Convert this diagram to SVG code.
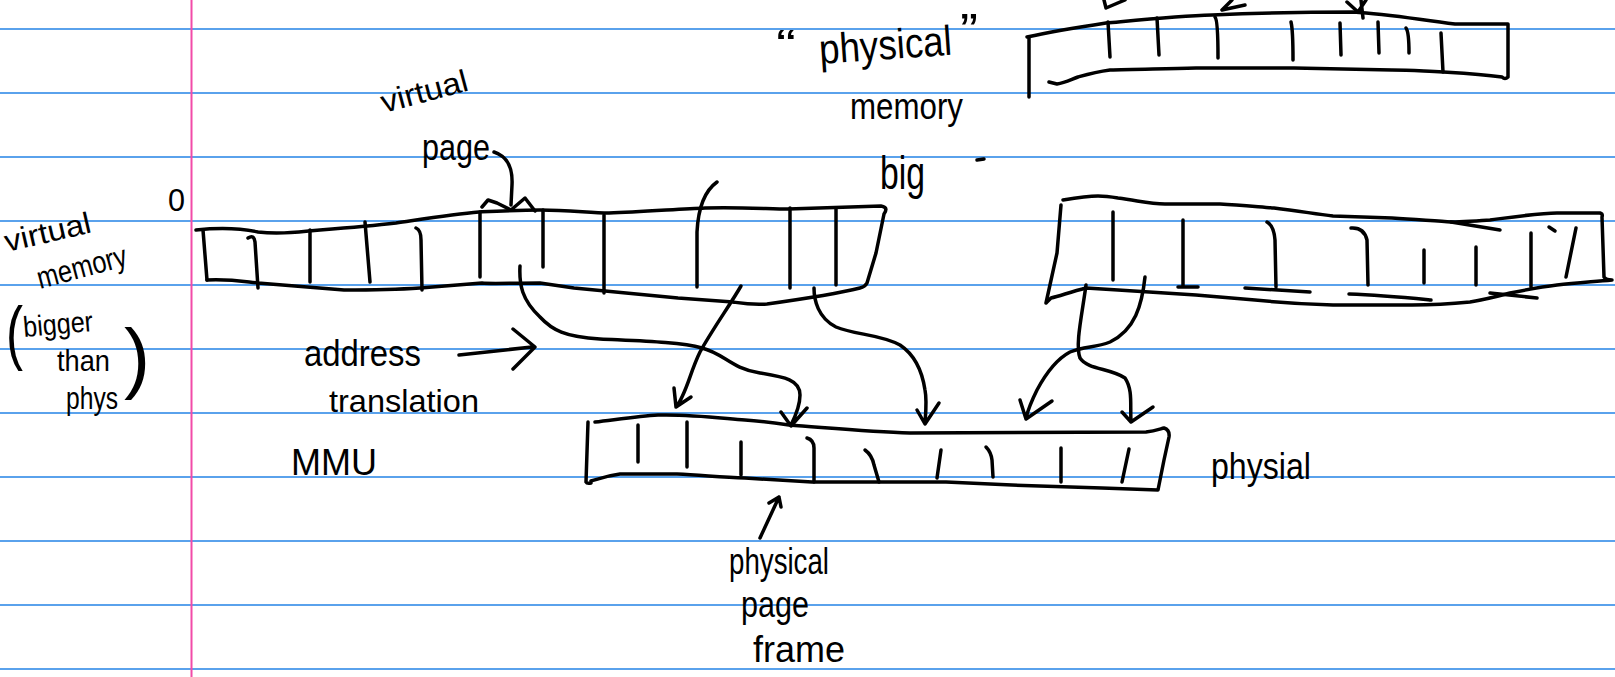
<svg xmlns="http://www.w3.org/2000/svg" width="1615" height="677" viewBox="0 0 1615 677">
<style>
.rule{stroke:#5aa2ec;stroke-width:2}
.margin{stroke:#f24ba8;stroke-width:2}
.ink{fill:none;stroke:#000;stroke-width:3.5;stroke-linecap:round;stroke-linejoin:round}
.t{font-family:"Liberation Sans",Arial,sans-serif;fill:#000}
</style>
<rect width="1615" height="677" fill="#fff"/>
<g id="paper">
<line class="rule" x1="0" y1="29" x2="1615" y2="29"/>
<line class="rule" x1="0" y1="93" x2="1615" y2="93"/>
<line class="rule" x1="0" y1="157" x2="1615" y2="157"/>
<line class="rule" x1="0" y1="221" x2="1615" y2="221"/>
<line class="rule" x1="0" y1="285" x2="1615" y2="285"/>
<line class="rule" x1="0" y1="349" x2="1615" y2="349"/>
<line class="rule" x1="0" y1="413" x2="1615" y2="413"/>
<line class="rule" x1="0" y1="477" x2="1615" y2="477"/>
<line class="rule" x1="0" y1="541" x2="1615" y2="541"/>
<line class="rule" x1="0" y1="605" x2="1615" y2="605"/>
<line class="rule" x1="0" y1="669" x2="1615" y2="669"/>
<line class="margin" x1="191.5" y1="0" x2="191.5" y2="677"/>
</g>

<g id="labels-left">
<text class="t" x="168" y="211" font-size="32" textLength="17" lengthAdjust="spacingAndGlyphs">0</text>
<text class="t" x="7" y="252" font-size="30" textLength="88" lengthAdjust="spacingAndGlyphs" transform="rotate(-13 7 252)">virtual</text>
<text class="t" x="40" y="289" font-size="31" textLength="92" lengthAdjust="spacingAndGlyphs" transform="rotate(-15 40 289)">memory</text>
<text class="t" x="6" y="356" font-size="70" textLength="17" lengthAdjust="spacingAndGlyphs">(</text>
<text class="t" x="24" y="337" font-size="29" textLength="70" lengthAdjust="spacingAndGlyphs" transform="rotate(-5 24 337)">bigger</text>
<text class="t" x="57" y="371" font-size="29" textLength="53" lengthAdjust="spacingAndGlyphs">than</text>
<text class="t" x="66" y="409" font-size="31" textLength="52" lengthAdjust="spacingAndGlyphs">phys</text>
<text class="t" x="124" y="384" font-size="78" textLength="26" lengthAdjust="spacingAndGlyphs">)</text>
</g>

<g id="label-virtual-page">
<text class="t" x="384" y="113" font-size="31" textLength="89" lengthAdjust="spacingAndGlyphs" transform="rotate(-15 384 113)">virtual</text>
<text class="t" x="422" y="160" font-size="36" textLength="68" lengthAdjust="spacingAndGlyphs">page</text>
</g>

<g id="label-address-translation">
<text class="t" x="304" y="366" font-size="36" textLength="117" lengthAdjust="spacingAndGlyphs">address</text>
<text class="t" x="329" y="412" font-size="32" textLength="150" lengthAdjust="spacingAndGlyphs">translation</text>
</g>

<g id="label-mmu">
<text class="t" x="291" y="475" font-size="37" textLength="86" lengthAdjust="spacingAndGlyphs">MMU</text>
</g>

<g id="label-physical-memory">
<text class="t" x="776" y="58" font-size="40" textLength="20" lengthAdjust="spacingAndGlyphs">“</text>
<text class="t" x="820" y="64" font-size="42" textLength="133" lengthAdjust="spacingAndGlyphs" transform="rotate(-4 820 64)">physical</text>
<text class="t" x="960" y="46" font-size="46" textLength="18" lengthAdjust="spacingAndGlyphs">”</text>
<text class="t" x="850" y="119" font-size="37" textLength="113" lengthAdjust="spacingAndGlyphs">memory</text>
<text class="t" x="880" y="189" font-size="46" textLength="45" lengthAdjust="spacingAndGlyphs">big</text>
<path class="ink" d="M977,160 L984,159"/>
</g>

<g id="label-physial">
<text class="t" x="1211" y="479" font-size="37" textLength="100" lengthAdjust="spacingAndGlyphs">physial</text>
</g>

<g id="label-physical-page-frame">
<text class="t" x="729" y="574" font-size="36" textLength="100" lengthAdjust="spacingAndGlyphs">physical</text>
<text class="t" x="741" y="617" font-size="37" textLength="68" lengthAdjust="spacingAndGlyphs">page</text>
<text class="t" x="753" y="662" font-size="37" textLength="92" lengthAdjust="spacingAndGlyphs">frame</text>
</g>

<g id="virtual-memory-bar">
<path class="ink" d="M196,230 C215,228 235,227 258,232 C275,234 290,233 320,230 C345,228 370,226 396,223 C430,218 455,214 479,212 C500,211 520,210 540,210 C570,210 590,213 609,213 C640,212 680,209 705,208 C740,207 770,209 788,209 C820,208 850,207 881,206 C888,207 886,211 884,214 L876,253 L867,283 Q865,287 860,288 C840,293 810,298 767,304 C750,305 740,303 733,302 L678,298 L626,293 L574,288 L540,283 C510,283 490,284 482,283 L420,288 C390,290 370,290 344,290 L258,283 C240,281 230,279 207,280"/>
<path class="ink" d="M203,230 L207,280"/>
<path class="ink" d="M248,238 Q254,234 255,242 L258,288"/>
<path class="ink" d="M310,230 L310,282"/>
<path class="ink" d="M365,222 L370,282"/>
<path class="ink" d="M416,228 Q421,230 421,240 L422,290"/>
<path class="ink" d="M480,212 L480,277"/>
<path class="ink" d="M543,210 L543,267"/>
<path class="ink" d="M604,215 L604,293"/>
<path class="ink" d="M697,287 L697,232 C698,212 703,192 717,182"/>
<path class="ink" d="M790,208 L790,288"/>
<path class="ink" d="M836,208 L836,285"/>
</g>

<g id="physical-memory-top-bar">
<path class="ink" d="M1029,37 L1029,97"/>
<path class="ink" d="M1027,37 C1050,32 1080,27 1106,23 C1150,19 1180,16 1212,15 C1260,13 1310,12 1353,12 C1390,14 1420,20 1455,24 L1508,24 L1508,77 Q1505,80 1502,77 C1480,74 1460,73 1443,72 C1420,71 1410,70 1392,70 L1294,68 L1196,68 C1160,69 1130,69 1110,70 C1095,72 1085,75 1078,77 C1070,80 1065,83 1057,84 L1049,82"/>
<path class="ink" d="M1108,22 L1110,57"/>
<path class="ink" d="M1157,18 L1159,55"/>
<path class="ink" d="M1215,17 Q1218,20 1218,58"/>
<path class="ink" d="M1291,22 Q1293,30 1293,60"/>
<path class="ink" d="M1340,23 L1341,55"/>
<path class="ink" d="M1378,22 L1379,53"/>
<path class="ink" d="M1406,28 Q1409,32 1409,53"/>
<path class="ink" d="M1441,33 L1443,72"/>
<path class="ink" d="M1104,0 L1106,8 L1125,0"/>
<path class="ink" d="M1232,0 L1222,10 L1245,5"/>
<path class="ink" d="M1361,0 L1363,18 M1347,2 L1358,12 L1366,0"/>
</g>

<g id="virtual-memory-right-bar">
<path class="ink" d="M1063,200 C1075,198 1090,196 1098,196 C1105,196 1112,197 1118,198 C1140,201 1150,204 1165,204 L1220,204 C1240,205 1260,207 1274,208 C1300,211 1315,214 1333,216 L1392,218 C1420,220 1440,221 1451,222 C1470,221 1480,221 1490,220 C1520,216 1540,213 1557,213 L1600,213 Q1603,214 1602,217 L1604,277 Q1606,280 1612,280 C1590,282 1575,283 1557,285 C1540,287 1525,290 1510,293 C1495,297 1482,300 1470,302 C1450,304 1430,305 1412,305 L1333,305 C1300,304 1275,302 1255,300 L1196,295 L1118,290 L1086,288 C1070,292 1060,296 1051,298 L1047,302"/>
<path class="ink" d="M1061,205 L1057,253 L1046,303"/>
<path class="ink" d="M1451,222 L1500,230"/>
<path class="ink" d="M1349,294 C1380,295 1400,297 1431,300"/>
<path class="ink" d="M1490,293 L1537,298"/>
<path class="ink" d="M1113,212 L1113,280"/>
<path class="ink" d="M1183,220 L1183,287 M1178,287 L1198,287"/>
<path class="ink" d="M1267,222 Q1274,226 1275,240 L1276,287 M1245,288 L1310,292"/>
<path class="ink" d="M1351,228 Q1364,227 1367,240 L1368,285"/>
<path class="ink" d="M1424,250 L1424,283"/>
<path class="ink" d="M1476,247 L1476,285"/>
<path class="ink" d="M1531,233 L1531,287"/>
<path class="ink" d="M1549,227 L1555,231"/>
<path class="ink" d="M1576,228 L1566,277"/>
</g>

<g id="mmu-physical-bar">
<path class="ink" d="M588,422 L586,482 Q587,484 591,483"/>
<path class="ink" d="M595,422 C620,419 640,416 658,415 C690,414 720,418 745,420 C760,421 775,423 789,425 C830,428 870,432 910,433 L1146,432 C1155,431 1160,429 1164,428 Q1170,430 1169,437 L1164,460 L1158,490 L1102,488 L1012,485 L946,482 L879,482 L812,482 L745,478 C720,477 700,475 677,474 C650,474 635,474 620,474 C605,476 598,479 591,481"/>
<path class="ink" d="M638,425 L638,462"/>
<path class="ink" d="M687,422 L687,467"/>
<path class="ink" d="M741,442 L741,475"/>
<path class="ink" d="M807,438 Q814,440 814,448 L814,482"/>
<path class="ink" d="M865,450 Q872,455 874,465 L879,482"/>
<path class="ink" d="M941,450 L937,478"/>
<path class="ink" d="M986,447 Q991,452 992,460 L993,477"/>
<path class="ink" d="M1061,448 L1061,482"/>
<path class="ink" d="M1129,449 L1122,482"/>
</g>

<g id="connectors">
<path class="ink" d="M494,152 C506,156 513,165 512,185 L511,205 M482,207 L488,200 L497,203 L511,210 L525,198 L535,211"/>
<path class="ink" d="M459,355 L532,347 M513,329 L535,347 L513,369"/>
<path class="ink" d="M520,266 C519,285 522,300 540,317 C552,330 565,337 600,339 C640,341 680,342 702,348 C725,354 730,368 760,373 C785,377 800,380 800,395 C800,405 796,415 791,425 M781,412 L791,426 L807,408"/>
<path class="ink" d="M741,286 C730,305 712,330 700,352 C690,372 686,395 676,407 M674,388 L676,407 L691,397"/>
<path class="ink" d="M814,288 C814,300 818,318 836,327 C855,335 880,334 900,345 C915,355 922,370 925,390 C927,400 926,410 925,423 M917,410 L925,424 L939,403"/>
<path class="ink" d="M1145,277 C1142,305 1135,330 1110,342 C1095,348 1085,346 1070,352 C1055,360 1045,375 1037,390 C1032,400 1028,410 1026,418 M1020,400 L1026,419 L1052,401"/>
<path class="ink" d="M1086,285 C1082,315 1075,345 1080,358 C1088,370 1110,368 1125,378 C1133,390 1130,405 1131,421 M1122,412 L1131,422 L1153,407"/>
<path class="ink" d="M760,538 L779,497 M769,503 L779,497 L781,507"/>
</g>
</svg>
